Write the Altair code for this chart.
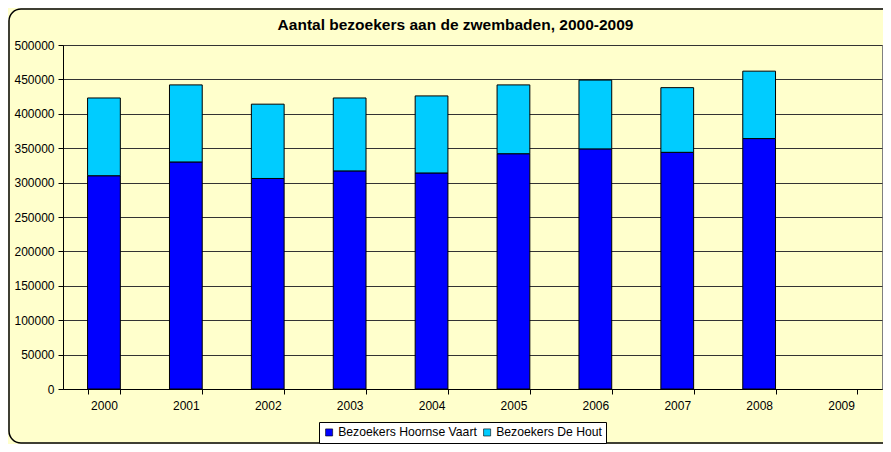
import altair as alt
import pandas as pd

years = ["2000", "2001", "2002", "2003", "2004", "2005", "2006", "2007", "2008", "2009"]
data_years = ["2000", "2001", "2002", "2003", "2004", "2005", "2006", "2007", "2008"]
hoornse_vaart = [310000, 330000, 306000, 317000, 314000, 342000, 349000, 344000, 364000]
de_hout = [113000, 112000, 108000, 106000, 112000, 100000, 100000, 94000, 98000]
series = ["Bezoekers Hoornse Vaart", "Bezoekers De Hout"]
colors = ["#0000FF", "#00CCFF"]
y_ticks = [0, 50000, 100000, 150000, 200000, 250000, 300000, 350000, 400000, 450000, 500000]

rows = []
for jaar, h, d in zip(data_years, hoornse_vaart, de_hout):
    rows.append({"jaar": jaar, "serie": series[0], "bezoekers": h, "volgorde": 0})
    rows.append({"jaar": jaar, "serie": series[1], "bezoekers": d, "volgorde": 1})
df = pd.DataFrame(rows)

FONT = "Liberation Sans"

bars = alt.Chart(df).mark_bar(stroke="black", strokeWidth=1).encode(
    x=alt.X(
        "jaar:N",
        scale=alt.Scale(domain=years, paddingInner=0.6, paddingOuter=0.3),
        axis=alt.Axis(
            title=None, labelAngle=0, tickBand="extent", tickSize=5,
            labelPadding=6, domainColor="black", tickColor="black",
            labelFontSize=12, labelColor="black", labelFont=FONT,
        ),
    ),
    y=alt.Y(
        "bezoekers:Q",
        stack="zero",
        scale=alt.Scale(domain=[0, 500000], nice=False),
        axis=alt.Axis(
            title=None, values=y_ticks, format="d", tickSize=5, labelPadding=4,
            domainColor="black", tickColor="black", gridColor="#333333",
            labelFontSize=12, labelColor="black", labelFont=FONT,
        ),
    ),
    color=alt.Color(
        "serie:N",
        scale=alt.Scale(domain=series, range=colors),
        legend=alt.Legend(
            title=None, orient="none", legendX=256, legendY=377,
            direction="horizontal", strokeColor="black", fillColor="white",
            padding=4, symbolType="square", symbolSize=50,
            symbolStrokeColor="black", symbolStrokeWidth=0.6,
            labelFontSize=12.2, labelFont=FONT, labelColor="black",
            columnPadding=4, labelOffset=3,
        ),
    ),
    order=alt.Order("volgorde:Q"),
)

frame = alt.Chart(pd.DataFrame({"k": [0]})).mark_rect(
    filled=False, stroke="black", strokeWidth=1.5, cornerRadius=12
).encode(
    x=alt.value(-54), x2=alt.value(900), y=alt.value(-36), y2=alt.value(398)
)

chart = alt.layer(frame, bars).properties(
    width=819,
    height=344,
    autosize=alt.AutoSizeParams(type="none"),
    padding={"left": 55, "top": 37, "right": 1, "bottom": 55},
    title=alt.TitleParams(
        "Aantal bezoekers aan de zwembaden, 2000-2009",
        font=FONT, fontSize=15.5, fontWeight="bold", color="black",
        anchor="middle", dx=-17, offset=-25,
    ),
).configure(
    background="#FFFFCC",
).configure_view(
    stroke="#808080", strokeWidth=1,
)

chart.save("out.html", embed_options={"renderer": "svg", "actions": False})
